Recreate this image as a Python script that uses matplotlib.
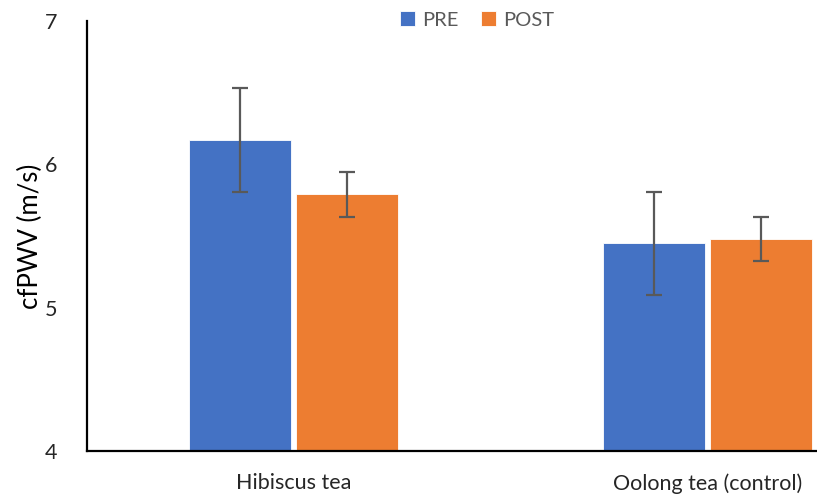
import numpy as np
import matplotlib.pyplot as plt

plt.rcParams['font.family'] = ['Lato', 'DejaVu Sans']

groups = ["Hibiscus tea", "Oolong tea (control)"]
pre_mean = [6.17, 5.45]
pre_err = [0.36, 0.36]
post_mean = [5.79, 5.48]
post_err = [0.155, 0.153]

blue = "#4472C4"
orange = "#ED7D31"
err_col = "#595959"

W, H = 817, 498
fig = plt.figure(figsize=(W / 100, H / 100), dpi=100)
# plot area runs past the right edge, as in the exported chart
ax = fig.add_axes([86.5 / W, (H - 451) / H, 828 / W, 430 / H])

x = np.arange(len(groups))
bw = 0.247
off = 0.1285
ekw = dict(ecolor=err_col, elinewidth=1.6, capsize=5.5, capthick=1.6)
ax.bar(x - off, pre_mean, bw, color=blue, edgecolor="white",
       linewidth=0.6, yerr=pre_err, error_kw=ekw, label="PRE", zorder=2)
ax.bar(x + off, post_mean, bw, color=orange, edgecolor="white",
       linewidth=0.6, yerr=post_err, error_kw=ekw, label="POST", zorder=2)

ax.set_xlim(-0.5, 1.5)
ax.set_ylim(4, 7)
ax.set_yticks([4, 5, 6, 7])
ax.set_xticks(x)
ax.set_xticklabels(groups, fontsize=15.5, color="#262626")
ax.tick_params(axis="y", length=0, pad=21, labelsize=15.5, labelcolor="#262626")
ax.tick_params(axis="x", length=0, pad=16)

for s in ("top", "right"):
    ax.spines[s].set_visible(False)
for s in ("left", "bottom"):
    ax.spines[s].set_linewidth(1.6)
    ax.spines[s].set_color("black")

fig.text(30 / W, 1 - 236 / H, "cfPWV (m/s)", rotation=90, fontsize=18.5,
         ha="center", va="center", color="black")

fig.legend(loc="center", bbox_to_anchor=(477 / W, 1 - 20 / H), ncol=2,
           frameon=False, fontsize=14.5, handlelength=0.75, handleheight=0.75,
           handletextpad=0.35, columnspacing=1.1, labelcolor="#595959")

fig.savefig("out.png", dpi=100)
